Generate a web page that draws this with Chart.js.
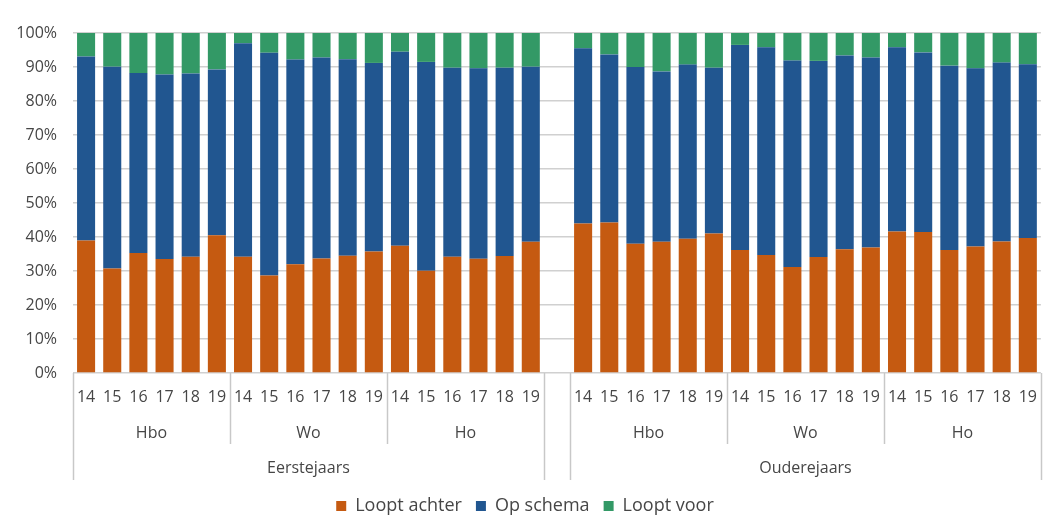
<!DOCTYPE html>
<html>
<head>
<meta charset="utf-8">
<script src="https://cdn.jsdelivr.net/npm/chart.js@4.4.1/dist/chart.umd.min.js"></script>
<style>
  html, body { margin: 0; padding: 0; background: #ffffff; }
  #wrap { position: relative; width: 1052px; height: 530px; }
</style>
</head>
<body>
<div id="wrap"><canvas id="c" width="1052" height="530"></canvas></div>
<script>
// ---- data ----
const years = ['14', '15', '16', '17', '18', '19'];
const sectors = ['Hbo', 'Wo', 'Ho'];
const cohorts = ['Eerstejaars', 'Ouderejaars'];
const seriesNames = ['Loopt achter', 'Op schema', 'Loopt voor'];

// Eerstejaars: Hbo 14-19, Wo 14-19, Ho 14-19
const looptAchterEerste = [39.0, 30.7, 35.3, 33.5, 34.2, 40.5, 34.2, 28.7, 32.0, 33.7, 34.5, 35.7, 37.4, 30.1, 34.2, 33.6, 34.4, 38.6];
const opSchemaEerste    = [54.1, 59.4, 52.9, 54.3, 53.9, 48.8, 62.8, 65.5, 60.2, 59.1, 57.8, 55.5, 57.1, 61.4, 55.6, 56.0, 55.4, 51.5];
const looptVoorEerste   = [6.9, 9.9, 11.8, 12.2, 11.9, 10.7, 3.0, 5.8, 7.8, 7.2, 7.7, 8.8, 5.5, 8.5, 10.2, 10.4, 10.2, 9.9];

// Ouderejaars: Hbo 14-19, Wo 14-19, Ho 14-19
const looptAchterOuder = [44.0, 44.3, 38.0, 38.6, 39.5, 41.0, 36.2, 34.7, 31.2, 34.1, 36.4, 36.9, 41.6, 41.5, 36.2, 37.2, 38.7, 39.7];
const opSchemaOuder    = [51.5, 49.4, 52.0, 50.1, 51.2, 48.8, 60.3, 61.1, 60.7, 57.7, 57.0, 55.9, 54.2, 52.8, 54.2, 52.4, 52.6, 51.1];
const looptVoorOuder   = [4.5, 6.3, 10.0, 11.3, 9.3, 10.2, 3.5, 4.2, 8.1, 8.2, 6.6, 7.2, 4.2, 5.7, 9.6, 10.4, 8.7, 9.2];

const yTicks = [0, 10, 20, 30, 40, 50, 60, 70, 80, 90, 100];

// ---- build category axis (one empty slot between cohorts) ----
const perCohort = years.length * sectors.length;
const labels = [];
cohorts.forEach((c, ci) => {
  if (ci > 0) labels.push('');
  sectors.forEach(() => years.forEach(y => labels.push(y)));
});
const joinGap = (a, b) => a.concat([null], b);

const FONT = 'Open Sans';
const TXT = '#464646';

const multiLevel = {
  id: 'multiLevel',
  afterDraw(chart) {
    const x = chart.scales.x;
    const ctx = chart.ctx;
    const step = x.getPixelForValue(1) - x.getPixelForValue(0);
    const edge = i => x.getPixelForValue(i) - step / 2;
    const top = chart.chartArea.bottom;
    ctx.save();
    ctx.strokeStyle = '#c8c8c8';
    ctx.lineWidth = 1.5;
    const vline = (px, y2) => {
      ctx.beginPath();
      ctx.moveTo(Math.round(px) + 0.5, top);
      ctx.lineTo(Math.round(px) + 0.5, top + y2);
      ctx.stroke();
    };
    ctx.fillStyle = TXT;
    ctx.textAlign = 'center';
    ctx.textBaseline = 'middle';
    cohorts.forEach((c, ci) => {
      const start = ci * (perCohort + 1);
      const end = start + perCohort;
      vline(edge(start), 107);
      vline(edge(end), 107);
      sectors.forEach((s, si) => {
        const s0 = start + si * years.length;
        const s1 = s0 + years.length;
        if (si > 0) vline(edge(s0), 71);
        ctx.font = '16px "' + FONT + '"';
        ctx.fillText(s, (edge(s0) + edge(s1)) / 2, top + 60);
      });
      ctx.font = '16px "' + FONT + '"';
      ctx.fillText(c, (edge(start) + edge(end)) / 2, top + 95);
    });
    ctx.restore();
  }
};

new Chart(document.getElementById('c'), {
  type: 'bar',
  data: {
    labels: labels,
    datasets: [
      { label: seriesNames[0], data: joinGap(looptAchterEerste, looptAchterOuder), backgroundColor: '#C55A11' },
      { label: seriesNames[1], data: joinGap(opSchemaEerste, opSchemaOuder), backgroundColor: '#215690' },
      { label: seriesNames[2], data: joinGap(looptVoorEerste, looptVoorOuder), backgroundColor: '#339966' }
    ]
  },
  options: {
    responsive: false,
    animation: false,
    devicePixelRatio: 1,
    layout: { padding: { top: 33, right: 2, left: 0, bottom: 5 } },
    datasets: { bar: { categoryPercentage: 1.0, barPercentage: 0.69, borderWidth: 0 } },
    plugins: {
      tooltip: { enabled: false },
      legend: {
        position: 'bottom',
        labels: {
          boxWidth: 10, boxHeight: 10, padding: 14,
          color: TXT,
          font: { family: FONT, size: 18 }
        }
      }
    },
    scales: {
      x: {
        stacked: true,
        grid: { display: false, drawTicks: false },
        border: { display: false },
        ticks: {
          autoSkip: false, maxRotation: 0, minRotation: 0, padding: 15,
          color: TXT, font: { family: FONT, size: 16 }
        },
        afterFit(scale) { scale.height = 110; }
      },
      y: {
        stacked: true,
        min: 0, max: 100,
        afterBuildTicks(scale) { scale.ticks = yTicks.map(v => ({ value: v })); },
        grid: { color: '#d0d0d0', lineWidth: 1.5, drawTicks: false },
        border: { display: false },
        ticks: {
          padding: 16,
          color: TXT, font: { family: FONT, size: 16 },
          callback: v => v + '%'
        },
        afterFit(scale) { scale.width = 73; }
      }
    }
  },
  plugins: [multiLevel]
});
</script>
</body>
</html>
